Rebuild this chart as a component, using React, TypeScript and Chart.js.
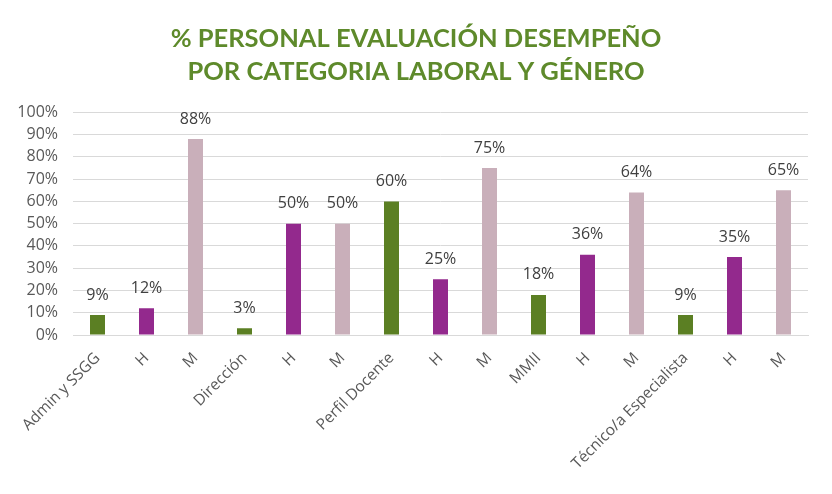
import React, { useEffect, useRef } from "react";
import { Chart, registerables } from "chart.js";

Chart.register(...registerables);

const categories = [
  "Admin y SSGG", "H", "M",
  "Dirección", "H", "M",
  "Perfil Docente", "H", "M",
  "MMII", "H", "M",
  "Técnico/a Especialista", "H", "M",
];
const values = [9, 12, 88, 3, 50, 50, 60, 25, 75, 18, 36, 64, 9, 35, 65];
const groupKinds = ["T", "H", "M", "T", "H", "M", "T", "H", "M", "T", "H", "M", "T", "H", "M"];
const titleLines = ["% PERSONAL EVALUACIÓN DESEMPEÑO", "POR CATEGORIA LABORAL Y GÉNERO"];

const colorFor: Record<string, string> = {
  T: "#5B7F23",
  H: "#93298D",
  M: "#C9AFBA",
};

const labelPlugin = {
  id: "valueLabels",
  afterDatasetsDraw(chart: any) {
    const ctx = chart.ctx;
    const meta = chart.getDatasetMeta(0);
    ctx.save();
    ctx.font = "16px 'Open Sans', sans-serif";
    ctx.fillStyle = "#404040";
    ctx.textAlign = "center";
    ctx.textBaseline = "middle";
    meta.data.forEach((bar: any, i: number) => {
      ctx.fillText(values[i] + "%", bar.x, bar.y - 20);
    });
    ctx.restore();
  },
};

export default function App() {
  const ref = useRef<HTMLCanvasElement>(null);
  useEffect(() => {
    document.body.style.margin = "0";
    const chart = new Chart(ref.current!, {
      type: "bar",
      data: {
        labels: categories,
        datasets: [
          {
            data: values,
            backgroundColor: groupKinds.map((k) => colorFor[k]),
            barPercentage: 0.6,
            categoryPercentage: 0.51,
          },
        ],
      },
      options: {
        animation: false,
        responsive: false,
        layout: { padding: { left: 0, right: 0, top: 14, bottom: 0 } },
        plugins: {
          legend: { display: false },
          tooltip: { enabled: false },
          title: {
            display: true,
            text: titleLines,
            color: "#5E8A2B",
            font: { family: "Lato", size: 25.5, weight: "bold", lineHeight: 1.3 },
            padding: { top: 8, bottom: 24 },
          },
        },
        scales: {
          x: {
            grid: { display: false },
            border: { color: "#D9D9D9", width: 1 },
            ticks: {
              color: "#595959",
              font: { family: "'Open Sans', sans-serif", size: 15.5 },
              maxRotation: 45,
              minRotation: 45,
              autoSkip: false,
              padding: 6,
            },
            afterFit(scale: any) {
              scale.height = 159;
            },
          },
          y: {
            min: 0,
            max: 100,
            ticks: {
              stepSize: 10,
              color: "#595959",
              font: { family: "'Open Sans', sans-serif", size: 16 },
              callback: (v: any) => v + "%",
              padding: 15,
            },
            grid: { color: "#D9D9D9", lineWidth: 1, drawTicks: false },
            border: { display: false },
            afterFit(scale: any) {
              scale.width = 73;
            },
          },
          yRight: {
            position: "right",
            min: 0,
            max: 100,
            ticks: { display: false },
            grid: { display: false },
            border: { display: false },
            afterFit(scale: any) {
              scale.width = 24;
            },
          },
        },
      },
      plugins: [labelPlugin],
    });
    return () => chart.destroy();
  }, []);
  return <canvas ref={ref} width={832} height={494} style={{ display: "block" }} />;
}
